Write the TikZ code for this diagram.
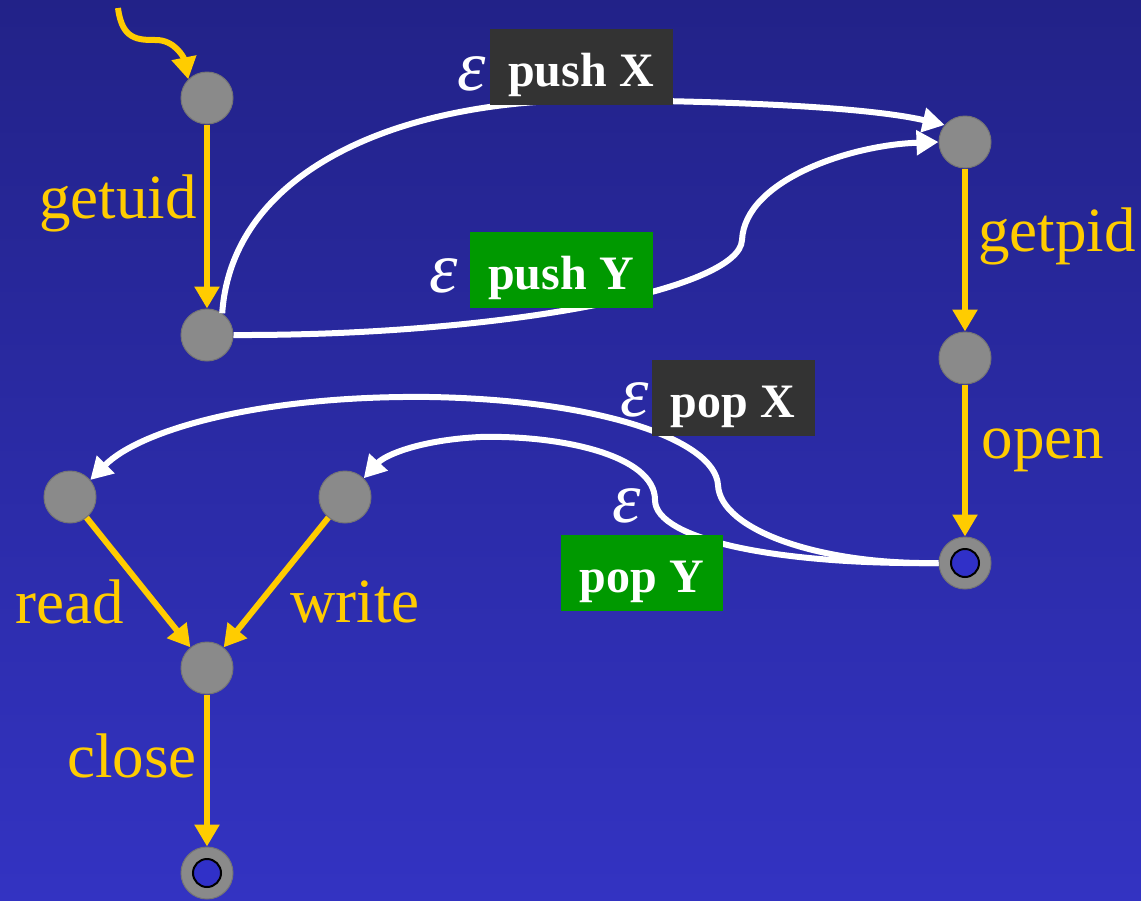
\documentclass[tikz,border=0pt]{standalone}
\usepackage{fontspec}
\setmainfont{Liberation Serif}
\usetikzlibrary{arrows.meta}

\definecolor{bgtop}{RGB}{34,34,136}
\definecolor{bgbot}{RGB}{51,51,194}
\definecolor{stategray}{RGB}{138,138,138}
\definecolor{gold}{RGB}{255,204,0}
\definecolor{boxdark}{RGB}{51,51,51}
\definecolor{boxgreen}{RGB}{0,153,0}
\definecolor{finalblue}{RGB}{48,48,200}

\begin{document}
\begin{tikzpicture}[x=1pt, y=-1pt,
  state/.style={circle, fill=stategray, draw=stategray!85!black, line width=1pt, minimum size=52pt, inner sep=0pt},
  final/.style={state, path picture={
      \fill[finalblue] (path picture bounding box.center) circle (14pt);
      \draw[black, line width=2pt] (path picture bounding box.center) circle (14pt);}},
  call/.style={draw=gold, line width=6pt, -{Triangle[length=22pt,width=24pt]}},
  eps/.style={draw=white, line width=6pt, -{Triangle[length=22pt,width=24pt]}},
  lbl/.style={text=gold, font=\fontsize{63}{70}\selectfont, inner sep=0pt},
  epsl/.style={text=white, font=\fontsize{72}{76}\selectfont\itshape, inner sep=0pt},
  tag/.style={text=white, font=\fontsize{48}{56}\selectfont\bfseries, minimum height=76pt,
    text height=44pt, text depth=6pt, inner sep=0pt}]

  \useasboundingbox (0,0) rectangle (1141,900);
  \shade[top color=bgtop, bottom color=bgbot] (0,0) rectangle (1141,900);

  % states
  \node[state] (uid0) at (207,98) {};
  \node[state] (uid1) at (207,335) {};
  \node[state] (pid0) at (965,142) {};
  \node[state] (pid1) at (965,358) {};
  \node[final] (open1) at (965,563) {};
  \node[state] (rd0) at (70,497) {};
  \node[state] (wr0) at (345,497) {};
  \node[state] (cl0) at (207,668) {};
  \node[final] (cl1) at (207,873) {};

  % start
  \coordinate (start) at (118,8);
  \draw[call] (start) .. controls (122,40) and (138,40) .. (156,40) .. controls (175,40) and (184,58) .. (uid0.135);

  % calls
  \draw[call] (uid0) -- (uid1);
  \draw[call] (pid0) -- (pid1);
  \draw[call] (pid1) -- (open1);
  \draw[call] (rd0) -- (cl0);
  \draw[call] (wr0) -- (cl0);
  \draw[call] (cl0) -- (cl1);

  \node[lbl] (getuid) at (118,203) {getuid};
  \node[lbl] (getpid) at (1057,236) {getpid};
  \node[lbl] (open) at (1043,450) {open};
  \node[lbl] (read) at (70,602) {read};
  \node[lbl] (write) at (355,602) {write};
  \node[lbl] (close) at (132,756) {close};

  % epsilon moves
  \draw[eps] (uid1.55) .. controls (232,170) and (400,98) .. (600,100) .. controls (780,102) and (880,110) .. (pid0.140);
  \draw[eps] (uid1.0) .. controls (500,336) and (740,290) .. (742,240) .. controls (745,180) and (850,145) .. (pid0.180);
  \draw[eps] (open1.180) .. controls (820,565) and (720,530) .. (718,485) .. controls (715,440) and (600,400) .. (430,397) .. controls (260,395) and (140,430) .. (rd0.40);
  \draw[eps] (open1.180) .. controls (780,565) and (655,540) .. (655,500) .. controls (655,455) and (560,435) .. (480,437) .. controls (420,440) and (385,455) .. (wr0.45);

  \node[tag, fill=boxdark, minimum width=183pt] (pushx) at (581,67) {push X};
  \node[tag, fill=boxgreen, minimum width=183pt] (pushy) at (561,270) {push Y};
  \node[tag, fill=boxdark, minimum width=163pt] (popx) at (733,398) {pop X};
  \node[tag, fill=boxgreen, minimum width=162pt] (popy) at (642,573) {pop Y};

  \node[epsl] (e1) at (472,74) {ε};
  \node[epsl] (e2) at (444,276) {ε};
  \node[epsl] (e3) at (635,400) {ε};
  \node[epsl] (e4) at (627,506) {ε};
\end{tikzpicture}
\end{document}
